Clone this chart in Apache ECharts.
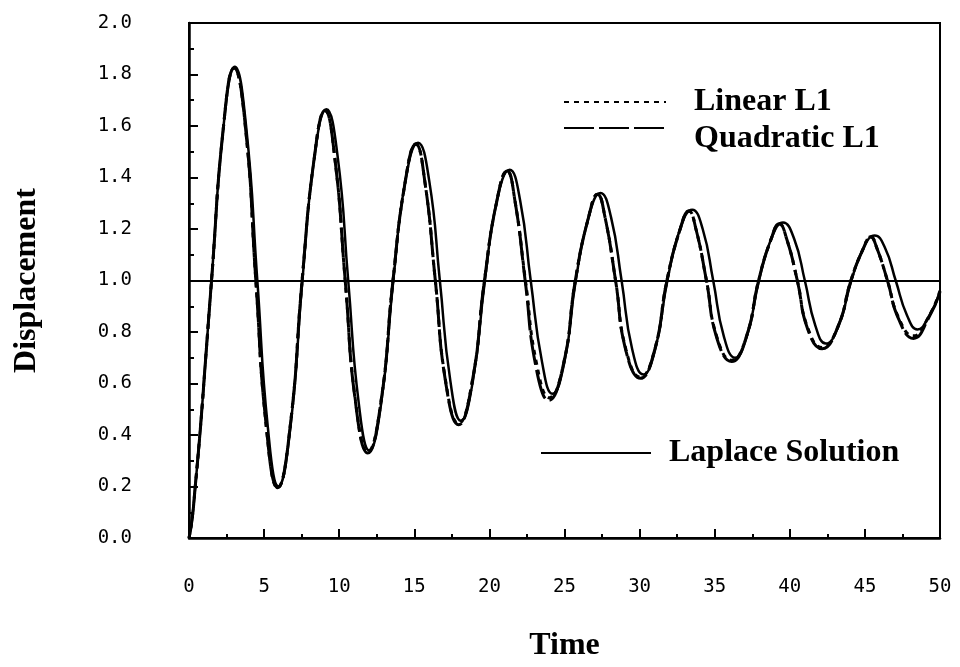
<!DOCTYPE html>
<html>
<head>
<meta charset="utf-8">
<title>Displacement vs Time</title>
<script src="https://cdn.jsdelivr.net/npm/echarts@6/dist/echarts.min.js"></script>
<style>
  html, body { margin: 0; padding: 0; background: #ffffff; }
  #chart { width: 960px; height: 667px; }
</style>
</head>
<body>
<div id="chart"></div>
<script>
// Laplace (reference) solution: [time, displacement]
const laplace = [
  [0, 0], [0.2, 0.07], [0.4, 0.19], [0.75, 0.42], [1.1, 0.69], [1.5, 1.0],
  [2.3, 1.60], [3.05, 1.83], [3.8, 1.60], [4.55, 1.0], [5.25, 0.43], [5.95, 0.20],
  [6.75, 0.43], [7.55, 1.0], [8.35, 1.48], [9.15, 1.665], [9.9, 1.48], [10.6, 1.0],
  [11.3, 0.525], [12.0, 0.34], [12.8, 0.525], [13.6, 1.0], [14.4, 1.385], [15.25, 1.535],
  [16.0, 1.385], [16.7, 1.0], [17.4, 0.61], [18.1, 0.455], [18.9, 0.61], [19.7, 1.0],
  [20.5, 1.31], [21.35, 1.43], [22.05, 1.31], [22.75, 1.0], [23.5, 0.685], [24.2, 0.56],
  [25.0, 0.685], [25.75, 1.0], [26.6, 1.245], [27.4, 1.34], [28.1, 1.245], [28.8, 1.0],
  [29.5, 0.735], [30.25, 0.635], [31.05, 0.735], [31.85, 1.0], [32.7, 1.20], [33.5, 1.275],
  [34.2, 1.20], [34.9, 1.0], [35.6, 0.785], [36.35, 0.70], [37.15, 0.785], [37.95, 1.0],
  [38.75, 1.16], [39.55, 1.225], [40.3, 1.16], [41.0, 1.0], [41.7, 0.825], [42.4, 0.755],
  [43.25, 0.825], [44.1, 1.0], [44.9, 1.125], [45.65, 1.175], [46.35, 1.125], [47.05, 1.0],
  [47.8, 0.865], [48.5, 0.81], [49.3, 0.865], [50.0, 0.955]
];

// Linear L1 element result: follows the rising branches, peaks and falls a little early
const linearL1 = [
  [0, 0], [0.2, 0.07], [0.4, 0.19], [0.75, 0.42], [1.1, 0.69], [1.5, 1.0],
  [2.3, 1.60], [3.0, 1.825], [3.75, 1.60], [4.45, 1.0], [5.15, 0.43], [5.9, 0.195],
  [6.73, 0.43], [7.53, 1.0], [8.35, 1.48], [9.05, 1.66], [9.7, 1.48], [10.4, 1.0],
  [11.1, 0.525], [11.9, 0.335], [12.77, 0.525], [13.58, 1.0], [14.4, 1.385], [15.1, 1.53],
  [15.7, 1.385], [16.4, 1.0], [17.1, 0.605], [17.95, 0.445], [18.85, 0.605], [19.67, 1.0],
  [20.5, 1.31], [21.18, 1.425], [21.7, 1.31], [22.4, 1.0], [23.15, 0.675], [24.0, 0.545],
  [24.95, 0.68], [25.72, 1.0], [26.6, 1.245], [27.2, 1.335], [27.7, 1.245], [28.4, 1.0],
  [29.1, 0.73], [30.05, 0.625], [31.0, 0.73], [31.82, 1.0], [32.7, 1.20], [33.28, 1.27],
  [33.75, 1.20], [34.45, 1.0], [35.15, 0.78], [36.13, 0.69], [37.1, 0.78], [37.92, 1.0],
  [38.75, 1.16], [39.3, 1.22], [39.8, 1.16], [40.5, 1.0], [41.2, 0.815], [42.15, 0.74],
  [43.2, 0.82], [44.07, 1.0], [44.9, 1.125], [45.38, 1.17], [45.8, 1.125], [46.5, 1.0],
  [47.25, 0.855], [48.23, 0.785], [49.25, 0.86], [50.0, 0.96]
];

// Quadratic L1 element result
const quadraticL1 = [
  [0, 0], [0.2, 0.07], [0.4, 0.19], [0.75, 0.42], [1.1, 0.69], [1.5, 1.0],
  [2.3, 1.60], [3.0, 1.825], [3.75, 1.60], [4.45, 1.0], [5.15, 0.43], [5.9, 0.195],
  [6.73, 0.43], [7.53, 1.0], [8.35, 1.48], [9.05, 1.66], [9.7, 1.48], [10.4, 1.0],
  [11.1, 0.52], [11.9, 0.33], [12.77, 0.525], [13.58, 1.0], [14.4, 1.385], [15.1, 1.53],
  [15.7, 1.385], [16.4, 1.0], [17.1, 0.60], [17.95, 0.44], [18.85, 0.605], [19.67, 1.0],
  [20.5, 1.31], [21.18, 1.425], [21.7, 1.31], [22.38, 1.0], [23.1, 0.665], [23.95, 0.535],
  [24.95, 0.68], [25.72, 1.0], [26.6, 1.245], [27.2, 1.335], [27.7, 1.245], [28.4, 1.0],
  [29.1, 0.725], [30.05, 0.62], [31.0, 0.73], [31.82, 1.0], [32.7, 1.20], [33.28, 1.27],
  [33.75, 1.20], [34.45, 1.0], [35.15, 0.775], [36.13, 0.685], [37.1, 0.78], [37.92, 1.0],
  [38.75, 1.16], [39.3, 1.22], [39.8, 1.16], [40.5, 1.0], [41.2, 0.81], [42.15, 0.735],
  [43.2, 0.82], [44.07, 1.0], [44.9, 1.125], [45.38, 1.17], [45.8, 1.125], [46.5, 1.0],
  [47.25, 0.85], [48.23, 0.775], [49.25, 0.855], [50.0, 0.955]
];

// Static equilibrium level
const equilibrium = 1.0;

const serifBold = {
  fontFamily: 'Liberation Serif',
  fontWeight: 'bold',
  fontSize: 32,
  color: '#000'
};
const monoLabel = {
  fontFamily: 'DejaVu Sans Mono',
  fontSize: 19,
  color: '#000'
};

const chart = echarts.init(document.getElementById('chart'), null, { renderer: 'canvas' });

chart.setOption({
  animation: false,
  backgroundColor: '#ffffff',
  grid: {
    left: 189, right: 20, top: 23, bottom: 122,
    show: true, borderColor: '#000', borderWidth: 2, backgroundColor: 'transparent'
  },
  xAxis: {
    type: 'value',
    min: 0, max: 50, interval: 5,
    name: 'Time',
    nameLocation: 'middle',
    nameGap: 92,
    nameTextStyle: serifBold,
    axisLine: { show: true, lineStyle: { color: '#000', width: 2.5 } },
    axisTick: { show: true, inside: true, length: 9, lineStyle: { color: '#000', width: 2 } },
    minorTick: { show: true, splitNumber: 2, length: 4, lineStyle: { color: '#000', width: 2 } },
    axisLabel: Object.assign({ margin: 40, formatter: v => String(v) }, monoLabel),
    splitLine: { show: false }
  },
  yAxis: {
    type: 'value',
    min: 0, max: 2, interval: 0.2,
    name: 'Displacement',
    nameLocation: 'middle',
    nameRotate: 90,
    nameGap: 146,
    nameTextStyle: serifBold,
    axisLine: { show: true, lineStyle: { color: '#000', width: 2.5 } },
    axisTick: { show: true, inside: true, length: 9, lineStyle: { color: '#000', width: 2 } },
    minorTick: { show: true, splitNumber: 2, length: 5, lineStyle: { color: '#000', width: 2 } },
    axisLabel: Object.assign({ margin: 57, formatter: v => v.toFixed(1) }, monoLabel),
    splitLine: { show: false }
  },
  legend: [
    {
      // the second entry's text sits half a line below its dashed sample
      data: [
        { name: 'Linear L1', textStyle: { lineHeight: 30 } },
        { name: 'Quadratic L1', textStyle: { lineHeight: 22 } }
      ],
      formatter: name => (name === 'Quadratic L1' ? '\n' + name : name),
      orient: 'vertical',
      left: 563, top: 86, padding: 0,
      itemWidth: 102, itemHeight: 3, itemGap: -17,
      itemStyle: { opacity: 0 },
      textStyle: Object.assign({ padding: [0, 0, 0, 23] }, serifBold),
      selectedMode: false
    },
    {
      data: [{ name: 'Laplace Solution' }],
      orient: 'vertical',
      left: 540, top: 437, padding: 0,
      itemWidth: 110, itemHeight: 3,
      itemStyle: { opacity: 0 },
      textStyle: Object.assign({ lineHeight: 30, padding: [0, 0, 0, 13] }, serifBold),
      selectedMode: false
    }
  ],
  series: [
    {
      name: 'Linear L1',
      type: 'line',
      data: linearL1,
      smooth: 0.5,
      symbol: 'none',
      lineStyle: { color: '#000', width: 3, type: [5, 5] },
      z: 2
    },
    {
      name: 'Quadratic L1',
      type: 'line',
      data: quadraticL1,
      smooth: 0.5,
      symbol: 'none',
      lineStyle: { color: '#000', width: 3, type: [30, 5] },
      z: 2
    },
    {
      name: 'Laplace Solution',
      type: 'line',
      data: laplace,
      smooth: 0.5,
      symbol: 'none',
      lineStyle: { color: '#000', width: 2.5, type: 'solid' },
      z: 3,
      markLine: {
        silent: true,
        symbol: 'none',
        label: { show: false },
        lineStyle: { color: '#000', width: 2, type: 'solid' },
        data: [{ yAxis: equilibrium }]
      }
    }
  ]
});
</script>
</body>
</html>
